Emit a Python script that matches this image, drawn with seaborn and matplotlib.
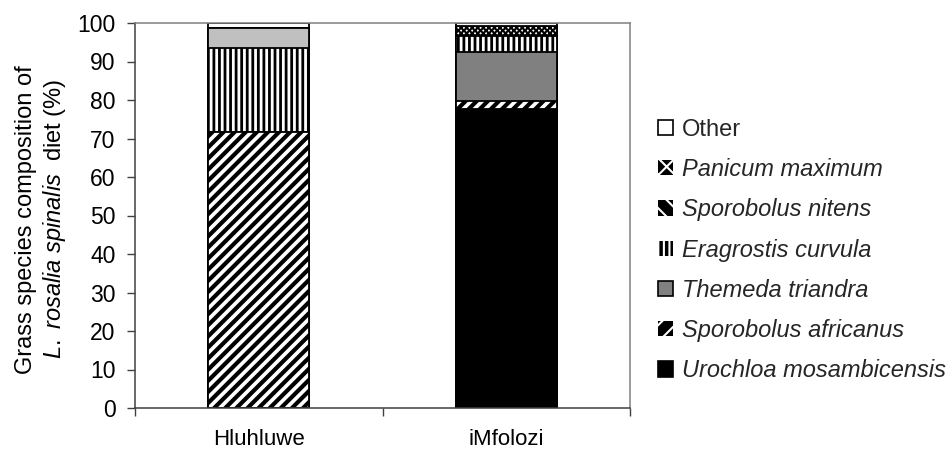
import numpy as np
import pandas as pd

import matplotlib
matplotlib.use('AGG')
import matplotlib.pyplot as plt
from matplotlib.patches import Patch
import seaborn as sns

sns.set_theme(style="white")
plt.rcParams['font.family'] = ['Liberation Sans', 'DejaVu Sans']
plt.rcParams['mathtext.fontset'] = 'custom'
plt.rcParams['mathtext.rm'] = 'Liberation Sans'
plt.rcParams['mathtext.it'] = 'Liberation Sans:italic'
plt.rcParams['hatch.linewidth'] = 1.5

# ---- data (percent of diet), stacking order bottom -> top
sites = ['Hluhluwe', 'iMfolozi']
species = ['Urochloa mosambicensis', 'Sporobolus africanus', 'Themeda triandra',
           'Eragrostis curvula', 'Sporobolus nitens', 'Panicum maximum', 'Other']
urochloa = [0.0, 77.6]
s_africanus = [71.6, 2.1]
themeda = [0.0, 12.7]
eragrostis = [21.9, 4.2]
s_nitens = [5.2, 0.0]
panicum = [0.0, 2.7]
other = [1.3, 0.7]

# face colour, hatch, hatch linewidth for the bars
bar_style = {
    'Urochloa mosambicensis': ('black', None, 1.0),
    'Sporobolus africanus': ('white', '///', 3.0),
    'Themeda triandra': ('#808080', None, 1.0),
    'Eragrostis curvula': ('white', '|||', 2.0),
    'Sporobolus nitens': ('#C0C0C0', None, 1.0),
    'Panicum maximum': ('white', 'xxxxxx', 1.5),
    'Other': ('white', None, 1.0),
}
# legend swatches look inverted (black with white pattern)
legend_style = {
    'Urochloa mosambicensis': ('black', None),
    'Sporobolus africanus': ('black', '//'),
    'Themeda triandra': ('#808080', None),
    'Eragrostis curvula': ('black', '|||'),
    'Sporobolus nitens': ('black', '\\\\'),
    'Panicum maximum': ('black', 'xx'),
    'Other': ('white', None),
}


def hatch_width(patch, lw):
    """draw one patch with its own hatch line width"""
    if hasattr(patch, 'set_hatch_linewidth'):
        patch.set_hatch_linewidth(lw)
    orig = patch.draw

    def draw(renderer):
        with plt.rc_context({'hatch.linewidth': lw}):
            orig(renderer)
    patch.draw = draw


values = np.array([urochloa, s_africanus, themeda, eragrostis, s_nitens, panicum, other])
cum = values.cumsum(axis=0)

fig = plt.figure(figsize=(9.52, 4.5), dpi=100)
ax = fig.add_axes([135/952, 42/450, 495/952, 385/450])

# stacked bars: draw cumulative heights from the top layer down
for i in range(len(species) - 1, -1, -1):
    name = species[i]
    fc, hatch, hlw = bar_style[name]
    df = pd.DataFrame({'site': sites, 'pct': cum[i]})
    sns.barplot(data=df, x='site', y='pct', color=fc, saturation=1,
                hatch=hatch, edgecolor='black', linewidth=1.3,
                width=0.41, errorbar=None, ax=ax)
    for p in ax.patches[-len(sites):]:
        hatch_width(p, hlw)

ax.set_xlim(-0.5, 1.5)
ax.set_ylim(0, 100)
ax.set_yticks(range(0, 101, 10))
ax.set_xticks([-0.5, 0.5, 1.5], minor=True)
ax.set_xlabel('')

ax.tick_params(axis='y', left=True, length=6, width=1, color='#404040',
               pad=8, labelsize=16.5, labelcolor='black')
ax.tick_params(axis='x', which='major', bottom=False, length=0, pad=15,
               labelsize=16, labelcolor='black')
ax.tick_params(axis='x', which='minor', bottom=True, length=6, width=1,
               color='#404040')

for side in ['left', 'bottom']:
    ax.spines[side].set_color('#404040')
    ax.spines[side].set_linewidth(1.1)
for side in ['top', 'right']:
    ax.spines[side].set_color('#808080')
    ax.spines[side].set_linewidth(1.1)

ax.set_ylabel("Grass species composition of\n$\\mathit{L.\\ rosalia\\ spinalis}$  diet (%)",
              fontsize=17, color='black')
ax.yaxis.set_label_coords(-0.136, 0.49)

# legend, top entry = top of stack
handles = []
for name in species[::-1]:
    fc, hatch = legend_style[name]
    with plt.rc_context({'hatch.color': 'white'}):
        if fc == 'black' and hatch:
            h = Patch(facecolor=fc, edgecolor='white', hatch=hatch, linewidth=0)
        else:
            h = Patch(facecolor=fc, edgecolor='black', linewidth=1.2)
    handles.append(h)

leg = fig.legend(handles, species[::-1], loc='center left',
                 bbox_to_anchor=(658/952, 1 - 250.5/450), frameon=False,
                 fontsize=17, handlelength=0.62, handleheight=0.62,
                 handletextpad=0.4, labelspacing=0.73, borderpad=0,
                 borderaxespad=0)
for t in leg.get_texts():
    if t.get_text() != 'Other':
        t.set_fontstyle('italic')

fig.savefig('out.png', dpi=100)
